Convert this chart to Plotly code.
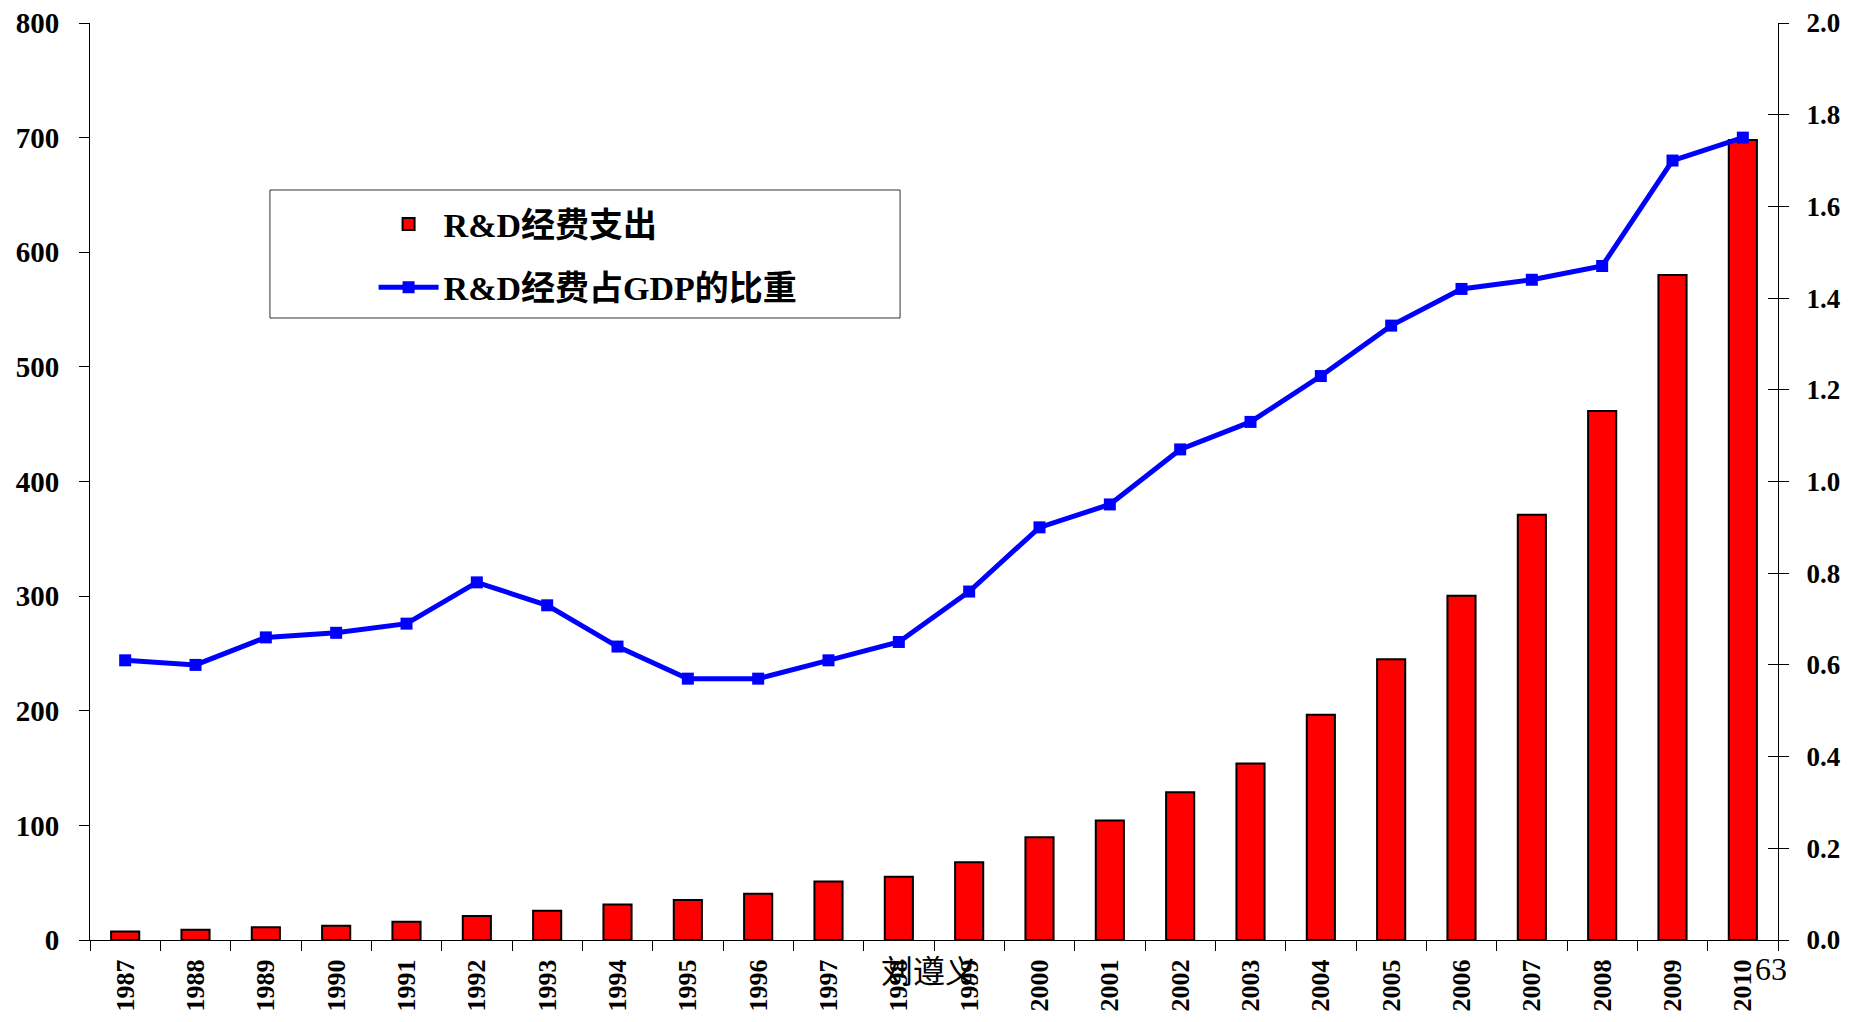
import plotly.graph_objects as go

years = [str(y) for y in range(1987, 2011)]
rd_spending = [7.4, 8.9, 11.2, 12.5, 16.0, 21.0, 25.6, 31.0, 34.9, 40.4, 51.0, 55.1,
               67.9, 89.6, 104.3, 128.8, 154.0, 196.6, 245.0, 300.3, 371.0, 461.6, 580.2, 698.0]
rd_share_gdp = [0.61, 0.60, 0.66, 0.67, 0.69, 0.78, 0.73, 0.64, 0.57, 0.57, 0.61, 0.65,
                0.76, 0.90, 0.95, 1.07, 1.13, 1.23, 1.34, 1.42, 1.44, 1.47, 1.70, 1.75]
left_ticks = [0, 100, 200, 300, 400, 500, 600, 700, 800]
right_ticks = [0.0, 0.2, 0.4, 0.6, 0.8, 1.0, 1.2, 1.4, 1.6, 1.8, 2.0]

SERIF = "Liberation Serif, Times New Roman, Noto Sans CJK SC"
ytick_font = dict(family=SERIF, size=29, color="black", weight="bold")
y2tick_font = dict(family=SERIF, size=27, color="black", weight="bold")
xtick_font = dict(family=SERIF, size=26, color="black", weight="bold")

fig = go.Figure()
fig.add_trace(go.Bar(
    x=years, y=rd_spending, name="R&D经费支出", legendgroup="a",
    marker=dict(color="#FF0000", line=dict(color="black", width=2)),
    yaxis="y",
))
fig.add_trace(go.Scatter(
    x=years, y=rd_share_gdp, name="R&D经费占GDP的比重", legendgroup="b",
    mode="lines+markers",
    line=dict(color="#0000FF", width=5),
    marker=dict(symbol="square", size=12, color="#0000FF"),
    yaxis="y2",
))
# invisible helper trace so the right axis has inner ticks (cross style)
fig.add_trace(go.Scatter(x=years, y=rd_share_gdp, yaxis="y3", mode="lines",
                         line=dict(width=0), showlegend=False, hoverinfo="skip"))

fig.update_layout(
    width=1833, height=1006,
    margin=dict(l=82, r=63, t=15, b=74),
    paper_bgcolor="white", plot_bgcolor="white",
    bargap=0.6,
    showlegend=True,
    legend=dict(
        x=0.168, xanchor="left", y=0.812, yanchor="top",
        bgcolor="rgba(0,0,0,0)", borderwidth=0,
        font=dict(family=SERIF, size=34, color="black", weight="bold"),
        itemwidth=60, traceorder="grouped", tracegroupgap=16,
    ),
    xaxis=dict(
        type="category", tickangle=-90, showline=True, linecolor="black", linewidth=1,
        ticks="outside", ticklen=10, tickcolor="black", tickson="boundaries",
        tickfont=xtick_font, ticklabelstandoff=8, automargin=False,
        ticklabeloverflow="allow",
        showgrid=False, zeroline=False, range=[-0.5, 23.5],
    ),
    yaxis=dict(
        range=[0, 800], tickvals=left_ticks, ticks="outside", ticklen=10,
        tickcolor="black", showline=True, linecolor="black", linewidth=1,
        tickfont=ytick_font, ticklabelstandoff=14, showgrid=False, zeroline=False,
        automargin=False, ticklabeloverflow="allow",
    ),
    yaxis2=dict(
        range=[0, 2.0], tickvals=right_ticks, tickformat=".1f", overlaying="y",
        side="right", ticks="outside", ticklen=10, tickcolor="black",
        showline=True, linecolor="black", linewidth=1,
        tickfont=y2tick_font, ticklabelstandoff=12, showgrid=False, zeroline=False,
        automargin=False, ticklabeloverflow="allow",
    ),
    yaxis3=dict(
        range=[0, 2.0], tickvals=right_ticks, overlaying="y", side="right",
        ticks="inside", ticklen=10, tickcolor="black", showticklabels=False,
        showline=False, showgrid=False, zeroline=False, automargin=False,
    ),
    shapes=[dict(type="rect", xref="paper", yref="paper",
                 x0=0.1066, x1=0.4799, y0=0.6783, y1=0.8179,
                 line=dict(color="#333333", width=1), fillcolor="rgba(0,0,0,0)",
                 layer="below")],
    annotations=[
        dict(text="刘遵义", xref="paper", yref="paper", x=0.497, y=-0.0316,
             showarrow=False, xanchor="center", yanchor="middle",
             font=dict(family="Noto Sans CJK SC", size=32, color="black")),
        dict(text="63", xref="paper", yref="paper", x=0.996, y=-0.0316,
             showarrow=False, xanchor="center", yanchor="middle",
             font=dict(family="Liberation Serif", size=32, color="black")),
    ],
)

fig.write_html("out.html")
